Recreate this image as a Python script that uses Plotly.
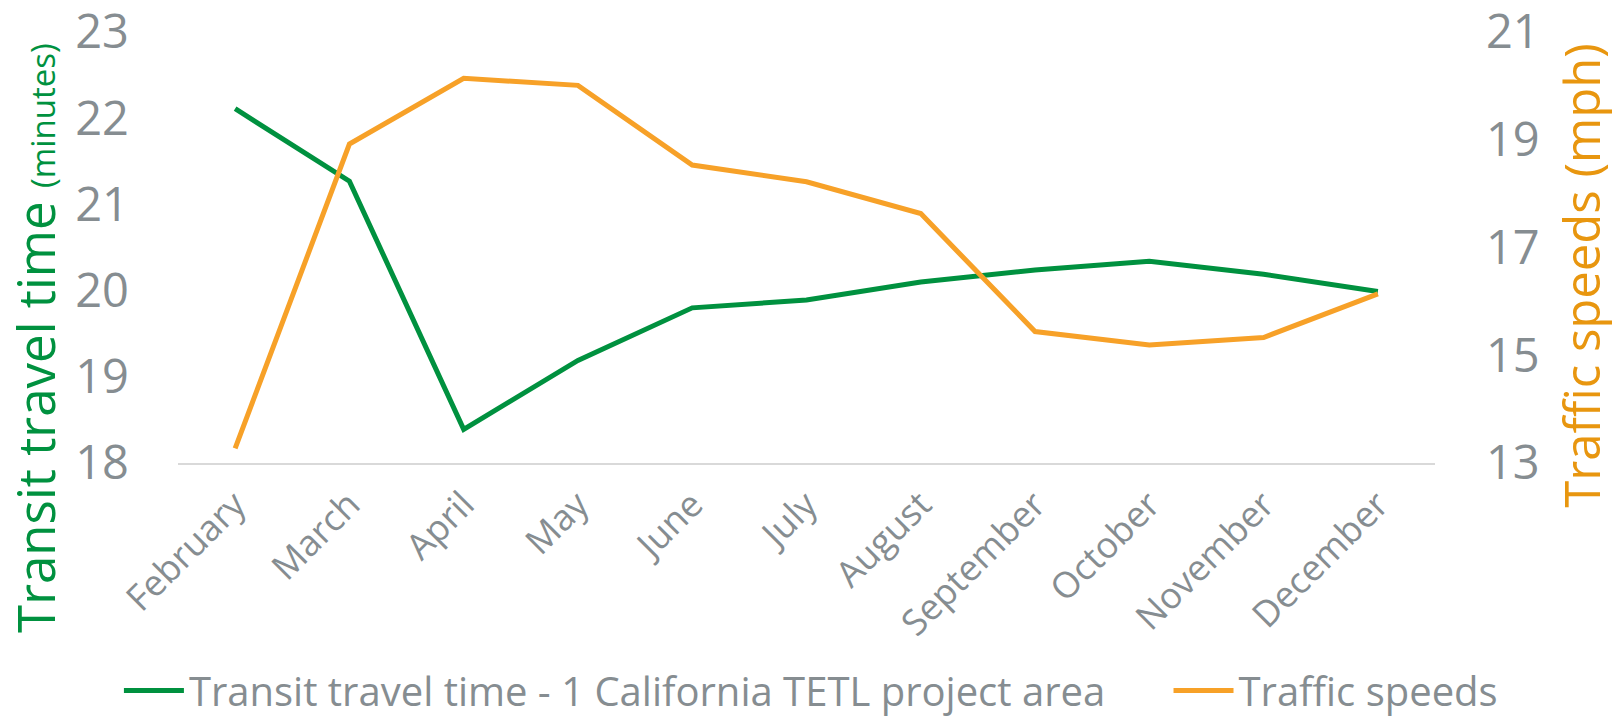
import plotly.graph_objects as go

months = ["February", "March", "April", "May", "June", "July", "August",
          "September", "October", "November", "December"]
transit_time = [22.11, 21.27, 18.39, 19.19, 19.80, 19.89, 20.10, 20.24, 20.34, 20.19, 19.99]
traffic_speed = [13.27, 18.92, 20.14, 20.01, 18.53, 18.22, 17.63, 15.44, 15.19, 15.33, 16.14]
left_ticks = [18, 19, 20, 21, 22, 23]
right_ticks = [13, 15, 17, 19, 21]

GREEN = "#00913f"
ORANGE = "#f7a128"
GRAY = "#868d91"
FONT = "Open Sans"

fig = go.Figure()
fig.add_trace(go.Scatter(
    x=months, y=transit_time, mode="lines",
    name="Transit travel time - 1 California TETL project area",
    line=dict(color=GREEN, width=5), yaxis="y", legend="legend"))
fig.add_trace(go.Scatter(
    x=months, y=traffic_speed, mode="lines",
    name="Traffic speeds",
    line=dict(color=ORANGE, width=5), yaxis="y2", legend="legend2"))

legend_common = dict(orientation="h", yanchor="middle", xanchor="left",
                     font=dict(size=40, color=GRAY, family=FONT),
                     itemwidth=60, bgcolor="rgba(0,0,0,0)")

fig.update_layout(
    template="none",
    width=1619, height=716,
    margin=dict(l=178, r=184, t=32, b=253, autoexpand=False),
    paper_bgcolor="white", plot_bgcolor="white",
    font=dict(family=FONT, color=GRAY),
    showlegend=True,
    legend=dict(x=-0.047, y=-0.528, **legend_common),
    legend2=dict(x=0.788, y=-0.528, **legend_common),
    xaxis=dict(
        type="category", showgrid=False, zeroline=False, automargin=False,
        showline=True, linecolor="#d9d9d9", linewidth=2,
        tickangle=-45, tickfont=dict(size=36, color=GRAY, family=FONT),
        ticks="", ticklabelstandoff=4,
        range=[-0.5, len(months) - 0.5]),
    yaxis=dict(
        range=[left_ticks[0], left_ticks[-1]], tickvals=left_ticks,
        showgrid=False, zeroline=False, showline=False, automargin=False,
        tickfont=dict(size=47, color=GRAY, family=FONT),
        ticks="", ticklabelstandoff=48, ticklabeloverflow="allow"),
    yaxis2=dict(
        range=[right_ticks[0], right_ticks[-1]], tickvals=right_ticks,
        overlaying="y", side="right", automargin=False,
        showgrid=False, zeroline=False, showline=False,
        tickfont=dict(size=47, color=GRAY, family=FONT),
        ticks="", ticklabelstandoff=50, ticklabeloverflow="allow"),
    annotations=[
        dict(text="Transit travel time <span style='font-size:33px'>(minutes)</span>",
             xref="paper", yref="paper", x=-0.1138, y=0.29,
             xanchor="center", yanchor="middle", textangle=-90,
             showarrow=False, font=dict(size=51, color=GREEN, family=FONT)),
        dict(text="Traffic speeds (mph)",
             xref="paper", yref="paper", x=1.116, y=0.434,
             xanchor="center", yanchor="middle", textangle=-90,
             showarrow=False, font=dict(size=49, color="#e8960f", family=FONT)),
    ],
)

fig.write_html("out.html", config={"displayModeBar": False},
               post_script="document.body.style.margin='0px';")
